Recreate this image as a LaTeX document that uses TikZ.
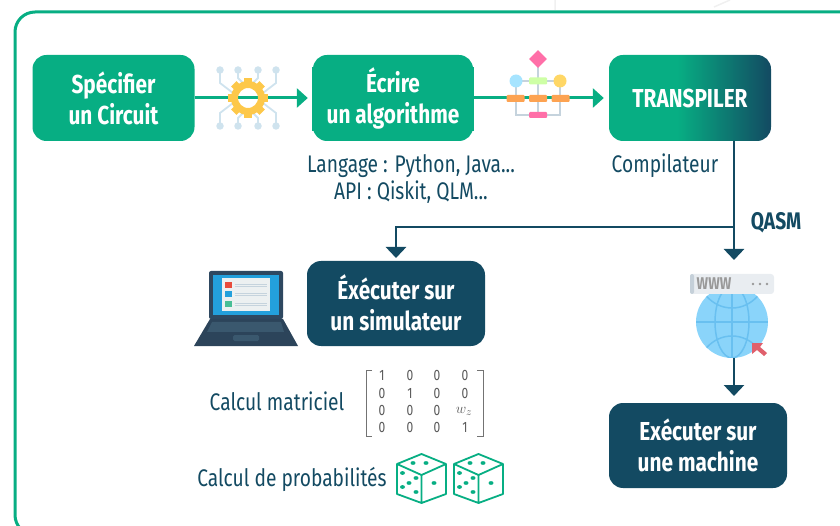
\documentclass[tikz,border=0pt]{standalone}
\usepackage{fontspec}
\setmainfont{Fira Sans}[FakeStretch=0.8]
\usetikzlibrary{arrows.meta,shapes.geometric}
\definecolor{vert}{HTML}{07AE83}
\definecolor{sombre}{HTML}{134A62}
\definecolor{fil}{HTML}{CFE3EE}
\definecolor{gris}{HTML}{C5D3DD}
\definecolor{orangeb}{HTML}{FDA352}
\definecolor{roseb}{HTML}{FF6FA8}
\definecolor{engr}{HTML}{FDC84A}
\definecolor{trait}{HTML}{69C0F0}
\pgfdeclarehorizontalshading{transp}{100bp}{color(0bp)=(vert);color(25bp)=(vert);color(46bp)=(vert);color(75bp)=(sombre);color(100bp)=(sombre)}
\tikzset{
  boite/.style={rounded corners=14pt,minimum width=162pt,minimum height=86pt,align=center,text=white,font=\bfseries\fontsize{26}{31}\selectfont,inner sep=0pt},
  bvert/.style={boite,fill=vert},
  bsombre/.style={boite,fill=sombre,minimum width=178pt,minimum height=85pt},
  legende/.style={text=sombre,font=\fontsize{24}{27}\selectfont,align=center,inner sep=0pt},
  flvert/.style={draw=vert,line width=3pt,-{Triangle[length=11pt,width=19pt]},shorten >=5pt},
  flsombre/.style={draw=sombre,line width=2.8pt,-{Triangle[length=11pt,width=20pt]}},
  cadre/.style={draw=vert,line width=3pt,rounded corners=20pt},
  fils/.style={draw=fil,line width=1.8pt},
  point/.style={circle,fill=fil,minimum size=7.5pt,inner sep=0pt},
  gl/.style={draw=gris,line width=1.8pt},
  bloc/.style={rounded corners=1pt,minimum width=18pt,minimum height=7pt,inner sep=0pt},
  mcell/.style={text=black!65,font=\fontsize{15}{16}\selectfont,inner sep=0pt},
  de/.style={draw=vert,line width=1.8pt,line join=round},
  pip/.style={fill=vert},
  mer/.style={draw=black!55,line width=1pt},
  gtr/.style={draw=trait,line width=1.5pt}
}
\begin{document}
\begin{tikzpicture}[x=1pt,y=-1pt]
\useasboundingbox (0,0) rectangle (840,526);
% faint background
\draw[gray!12,line width=1.5pt] (555,0) -- (555,10) (714,7) -- (730,0);
% frame
\draw[cadre] (850,12) -- (15,12) -- (15,535) -- (850,535);
% boxes
\node[bvert] (spec) at (113.5,98) {Spécifier\\un Circuit};
\fill[vert] (312,67) rectangle (474,131);
\node[boite,fill=vert,minimum width=160pt] (ecr) at (393,98) {Écrire\\un algorithme};
\node[boite,shade,shading=transp] (tr) at (690,98) {TRANSPILER};
\node[bsombre] (sim) at (396,303.5) {\raisebox{2.5pt}{Éxécuter sur}\\\raisebox{2.5pt}{un simulateur}};
\node[bsombre] (mach) at (698,445.5) {Exécuter sur\\une machine};
% connectors
\coordinate (branche) at (734,227);
\coordinate (trb) at (734,141);
\coordinate (qfin) at (734,260);
\coordinate (simh) at (396,258);
\coordinate (glb) at (734,350);
\coordinate (mh) at (734,396);
\draw[flvert] (spec) -- (ecr);
\draw[flvert] (ecr) -- (tr);
\draw[flsombre] (trb) -- (qfin);
\draw[flsombre] (branche) -- (branche -| simh) -- (simh);
\draw[flsombre] (glb) -- (mh);
% gear icon
\foreach \i/\sx/\sy in {1/1/1,2/-1/1,3/1/-1,4/-1/-1}{
 \begin{scope}[shift={(248,98)},xscale=\sx,yscale=\sy]
  \draw[fils] (-28,-28) -- (-28,-15) -- (-15,-5);
  \draw[fils] (-10,-28) -- (-10,-20) -- (-5,-15);
  \node[point] (pa\i) at (-28,-28) {};
  \node[point] (pb\i) at (-10,-28) {};
 \end{scope}}
\draw[draw=engr,line width=7pt] (248,98) circle[radius=13.5];
\foreach \a in {0,45,...,315}{
 \draw[draw=engr,line width=7.5pt] (248,98) ++(\a:15) -- ++(\a:5);}
% flow icon
\draw[gl] (538,59) -- (538,115);
\draw[gl] (516,81) -- (560,81);
\draw[gl] (516,81) -- (516,115) -- (560,115) -- (560,81);
\node[diamond,fill=roseb,minimum width=18pt,minimum height=18pt,inner sep=0pt] (los) at (538,59) {};
\node[circle,fill=blue!30!cyan!35!white,minimum size=13pt,inner sep=0pt] (cb) at (516,81) {};
\node[circle,fill={rgb,255:red,255;green,215;blue,102},minimum size=13pt,inner sep=0pt] (cj) at (560,81) {};
\node[bloc,fill=green!55!yellow!35] (bv) at (538,81) {};
\node[bloc,fill=orangeb] (o1) at (515.5,98.5) {};
\node[bloc,fill=orangeb] (o2) at (538,98.5) {};
\node[bloc,fill=orangeb] (o3) at (560.5,98.5) {};
\node[bloc,fill=roseb,minimum height=6pt] (br) at (538,115) {};
% captions
\node[legende] (l1) at (411,179) {Langage : Python, Java...\\API : Qiskit, QLM...};
\node[legende] (l2) at (665,166) {Compilateur};
\node[text=sombre,font=\bfseries\fontsize{24}{24}\selectfont,inner sep=0pt] (qasm) at (776,223) {QASM};
\node[legende] (l3) at (277,401) {Calcul matriciel};
\node[legende] (l4) at (292,479) {Calcul de probabilités};
% laptop
\fill[color={rgb,255:red,46;green,72;blue,96},rounded corners=2pt] (209,271) rectangle (283,319);
\fill[color={rgb,255:red,35;green,160;blue,220}] (213,275) rectangle (279,315);
\fill[color={rgb,255:red,236;green,240;blue,241}] (222,278) rectangle (270,311);
\fill[color={rgb,255:red,231;green,76;blue,60}] (225,282) rectangle (232,288);
\fill[color={rgb,255:red,35;green,160;blue,220}] (225,291) rectangle (232,297);
\fill[color={rgb,255:red,72;green,190;blue,150}] (225,301) rectangle (232,307);
\foreach \y in {284,286.5,293,295.5,303,305.5}{\draw[gris,line width=.8pt] (235,\y) -- (267,\y);}
\fill[color={rgb,255:red,44;green,68;blue,90}] (210,319) -- (283,319) -- (298,346) -- (194,346) -- cycle;
\fill[color={rgb,255:red,58;green,88;blue,110}] (212,322) -- (281,322) -- (284,332) -- (207,332) -- cycle;
\fill[color={rgb,255:red,58;green,88;blue,110},rounded corners=1.5pt] (233,335) rectangle (259,341);
% globe
\fill[color={rgb,255:red,138;green,212;blue,250}] (732,322) circle[radius=36];
\begin{scope}
 \clip (732,322) circle[radius=36];
 \draw[gtr] (696,322) -- (768,322) (732,286) -- (732,358);
 \draw[gtr] (732,322) ellipse[x radius=17,y radius=36];
 \draw[gtr] (732,268) ellipse[x radius=36,y radius=40];
 \draw[gtr] (732,376) ellipse[x radius=36,y radius=40];
\end{scope}
\fill[color={rgb,255:red,233;green,237;blue,241},rounded corners=3pt] (690,274) rectangle (774,294);
\fill[color={rgb,255:red,197;green,208;blue,217},rounded corners=2pt] (690,274) rectangle (694,294);
\node[text=black!40,font=\bfseries\fontsize{17}{17}\selectfont,inner sep=0pt] (www) at (714,284) {WWW};
\foreach \x in {753,760,767}{\fill[black!40] (\x,284) circle[radius=1.3];}
\fill[color={rgb,255:red,224;green,96;blue,108}] (752,343) -- (763,343) -- (760,347) -- (767,353) -- (764,356) -- (757,350) -- (752,354) -- cycle;
% matrix
\foreach \r/\y/\a/\b/\c/\d in {1/375/1/0/0/0,2/393/0/1/0/0,3/410/0/0/0/{},4/427/0/0/0/1}{
 \node[mcell] (m\r a) at (382,\y) {\a};
 \node[mcell] (m\r b) at (410,\y) {\b};
 \node[mcell] (m\r c) at (437,\y) {\c};
 \node[mcell] (m\r d) at (465,\y) {\d};
}
\node[mcell] (wz) at (464,411) {$w_z$};
\draw[mer] (372,370) -- (366,370) -- (366,436) -- (372,436);
\draw[mer] (477,370) -- (483,370) -- (483,436) -- (477,436);
% dice
\foreach \n/\dx in {1/0,2/57}{
\begin{scope}[xshift=\dx pt]
 \draw[de] (421.5,454) -- (397,464) -- (421.5,475) -- (446,464) -- cycle;
 \draw[de] (397,464) -- (397,494) -- (421.5,503) -- (446,494) -- (446,464) (421.5,475) -- (421.5,503);
 \foreach \x/\y in {413/463,426/463,402.5/473,416/478,409/483,402.5/487,416/492,434/483}{
  \fill[pip] (\x,\y) ellipse[x radius=2.5,y radius=1.9];}
\end{scope}}
\end{tikzpicture}
\end{document}
